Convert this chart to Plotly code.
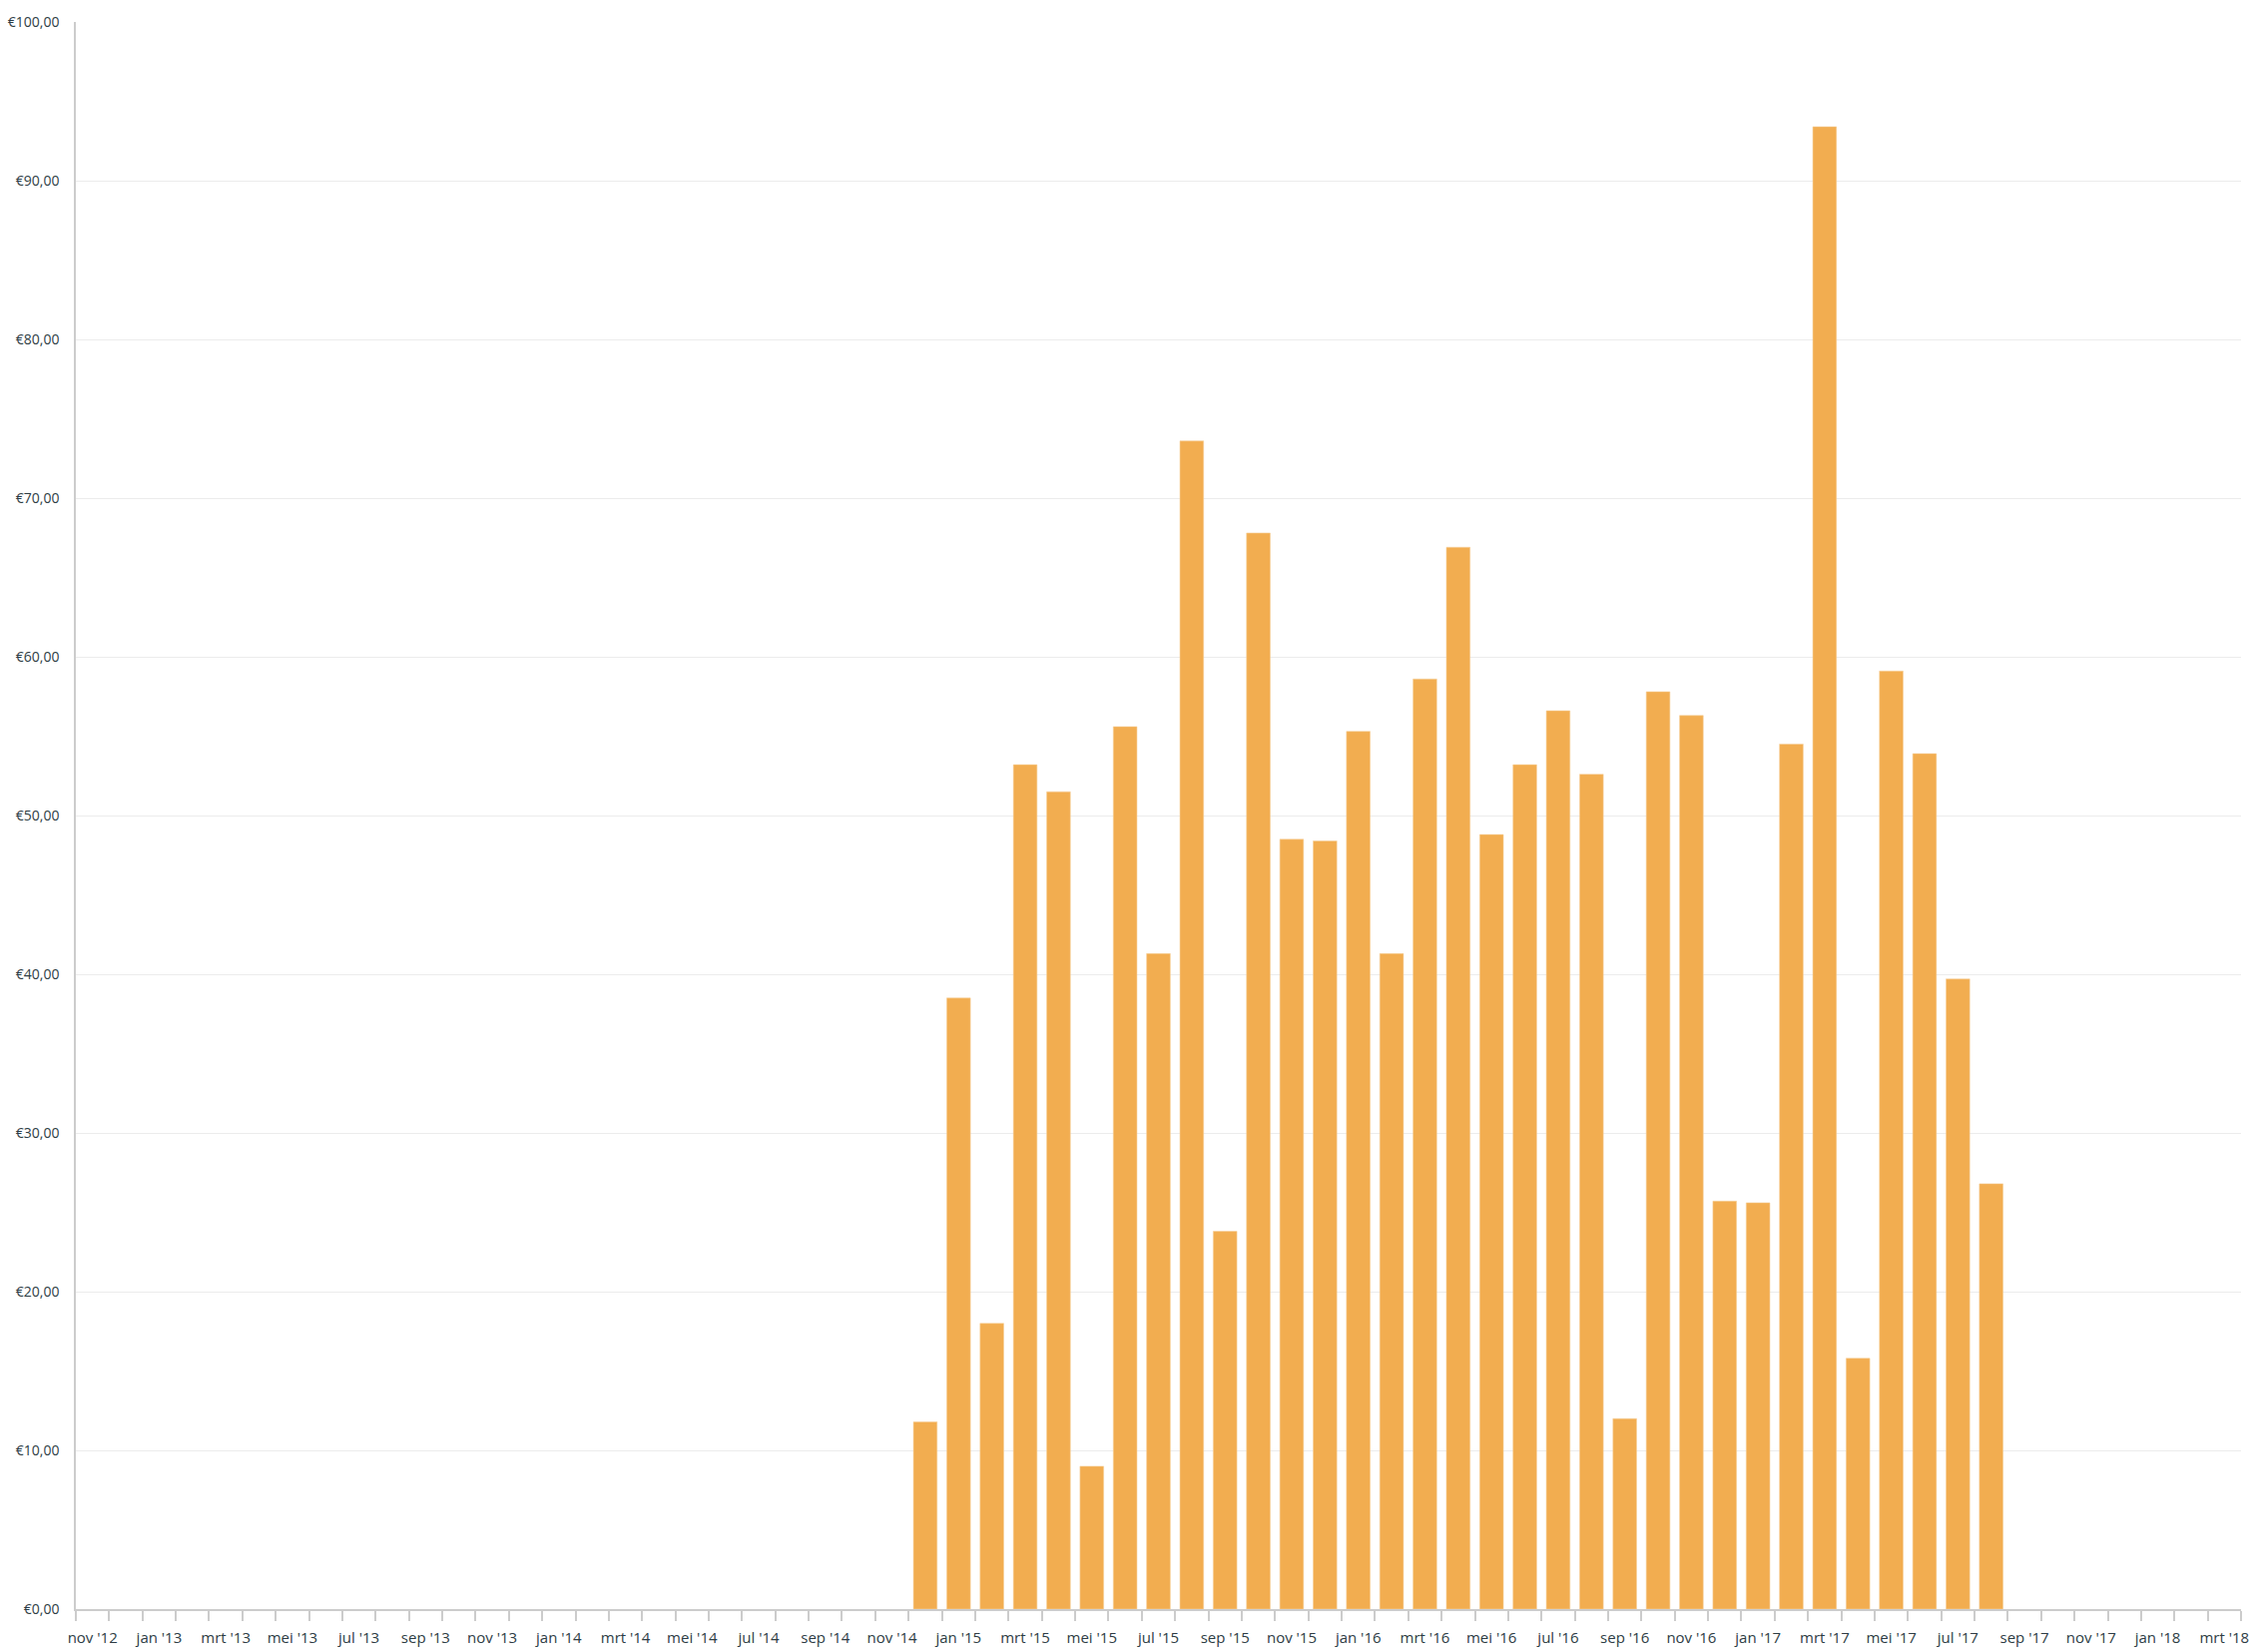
import plotly.graph_objects as go

# Dutch month abbreviations, axis spans nov '12 .. mrt '18 (one category per month)
month_names = ["jan", "feb", "mrt", "apr", "mei", "jun", "jul", "aug", "sep", "okt", "nov", "dec"]
axis_start = (2012, 11)
axis_end = (2018, 3)

# monthly amounts dec '14 .. aug '17
data_start = (2014, 12)
values = [11.8, 38.5, 18.0, 53.2, 51.5, 9.0, 55.6, 41.3, 73.6, 23.8, 67.8, 48.5,
          48.4, 55.3, 41.3, 58.6, 66.9, 48.8, 53.2, 56.6, 52.6, 12.0, 57.8, 56.3,
          25.7, 25.6, 54.5, 93.4, 15.8, 59.1, 53.9, 39.7, 26.8]

y_ticks = [0, 10, 20, 30, 40, 50, 60, 70, 80, 90, 100]
y_tick_text = ["€%d,00" % v for v in y_ticks]

# build category labels
categories = []
y, m = axis_start
while (y, m) <= axis_end:
    categories.append("%s '%02d" % (month_names[m - 1], y % 100))
    m += 1
    if m > 12:
        m = 1
        y += 1

start_idx = (data_start[0] - axis_start[0]) * 12 + (data_start[1] - axis_start[1])
bar_x = [start_idx + i for i in range(len(values))]

label_idx = list(range(0, len(categories), 2))
label_txt = [categories[i] for i in label_idx]

font_family = "Open Sans, Noto Sans, sans-serif"
text_color = "#2e3d45"

fig = go.Figure()
fig.add_trace(go.Bar(
    x=bar_x, y=values,
    marker=dict(color="#f2ad50", line=dict(color="#f7d09a", width=0.6)),
    hoverinfo="y",
))

fig.update_layout(
    width=2261, height=1655,
    margin=dict(l=76, r=16, t=22, b=43),
    plot_bgcolor="white", paper_bgcolor="white",
    bargap=0.29,
    showlegend=False,
    font=dict(family=font_family, size=15, color=text_color),
)

fig.update_xaxes(
    range=[-0.5, len(categories) - 0.5],
    automargin=False,
    tickmode="array", tickvals=label_idx, ticktext=label_txt,
    ticks="outside", ticklen=0, tickcolor="rgba(0,0,0,0)",
    ticklabelstandoff=14,
    showgrid=False, zeroline=False,
    showline=True, linecolor="#cccccc", linewidth=2,
    minor=dict(tick0=-0.5, dtick=1, ticks="outside", ticklen=10,
               tickcolor="#cccccc", tickwidth=1.5, showgrid=False),
    tickfont=dict(size=15, color=text_color),
)

fig.update_yaxes(
    range=[0, 100],
    automargin=False,
    tickmode="array", tickvals=y_ticks, ticktext=y_tick_text,
    ticks="", ticklabelstandoff=12,
    showgrid=True, gridcolor="#ececec", gridwidth=1,
    zeroline=False,
    showline=True, linecolor="#cccccc", linewidth=1.5,
    tickfont=dict(size=14, color=text_color),
)

fig.write_html("out.html")
